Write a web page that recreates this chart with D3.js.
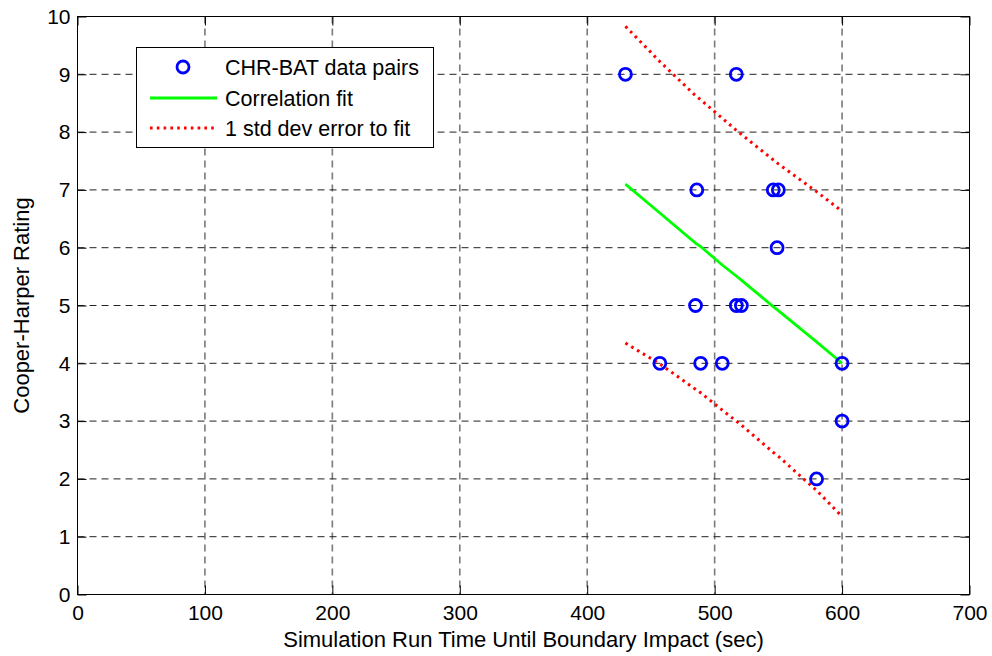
<!DOCTYPE html>
<html>
<head>
<meta charset="utf-8">
<script src="https://cdn.jsdelivr.net/npm/d3@7"></script>
<style>
  html, body { margin: 0; padding: 0; background: #fff; }
  svg { display: block; font-family: "Liberation Sans", Arial, sans-serif; }
</style>
</head>
<body>
<svg id="chart" width="992" height="656"></svg>
<script>
// CHR-BAT data pairs: run time (sec) vs Cooper-Harper rating
const runTime = [430, 517, 486, 546, 550, 549, 485, 517, 521, 457, 489, 506, 600, 600, 580];
const rating  = [9,   9,   7,   7,   7,   6,   5,   5,   5,   4,   4,   4,   4,   3,   2];

// Correlation fit and 1 std dev band, evaluated at the sorted run times
const fitTime   = [430, 457, 485, 489, 506, 517, 521, 546, 550, 580, 600];
const fitRating = [7.10, 6.60, 6.08, 6.02, 5.70, 5.51, 5.44, 4.98, 4.91, 4.37, 4.00];
const fitUpper  = [9.83, 9.22, 8.63, 8.56, 8.24, 8.03, 7.96, 7.52, 7.45, 6.97, 6.63];
const fitLower  = [4.35, 3.99, 3.55, 3.49, 3.19, 3.00, 2.93, 2.46, 2.39, 1.80, 1.35];

const xTicks = [0, 100, 200, 300, 400, 500, 600, 700];
const yTicks = [0, 1, 2, 3, 4, 5, 6, 7, 8, 9, 10];

const legendLabels = ["CHR-BAT data pairs", "Correlation fit", "1 std dev error to fit"];

const svg = d3.select("#chart");
const plotL = 77.5, plotR = 969.5, plotT = 16.5, plotB = 594.5;

const x = d3.scaleLinear().domain([0, 700]).range([plotL, plotR]);
const y = d3.scaleLinear().domain([0, 10]).range([plotB, plotT]);

// grid
const grid = svg.append("g");
grid.selectAll("line.vg").data(xTicks.slice(1, -1)).enter().append("line")
  .attr("x1", d => x(d)).attr("x2", d => x(d))
  .attr("y1", plotT).attr("y2", plotB)
  .attr("stroke", "#7a7a7a").attr("stroke-width", 1.6)
  .attr("stroke-dasharray", "7,5");
grid.selectAll("line.hg").data(yTicks.slice(1, -1)).enter().append("line")
  .attr("x1", plotL).attr("x2", plotR)
  .attr("y1", d => y(d)).attr("y2", d => y(d))
  .attr("stroke", "#222").attr("stroke-width", 1)
  .attr("stroke-dasharray", "7,5");

// axes
const fontSize = "21px";
const axB = svg.append("g").attr("transform", `translate(0,${plotB})`)
  .call(d3.axisBottom(x).tickValues(xTicks).tickSize(-9).tickPadding(11).tickSizeOuter(0));
const axL = svg.append("g").attr("transform", `translate(${plotL},0)`)
  .call(d3.axisLeft(y).tickValues(yTicks).tickSize(-9).tickPadding(7).tickSizeOuter(0));
const axT = svg.append("g").attr("transform", `translate(0,${plotT})`)
  .call(d3.axisTop(x).tickValues(xTicks).tickSize(-9).tickFormat("").tickSizeOuter(0));
const axR = svg.append("g").attr("transform", `translate(${plotR},0)`)
  .call(d3.axisRight(y).tickValues(yTicks).tickSize(-9).tickFormat("").tickSizeOuter(0));
[axB, axL, axT, axR].forEach(a => {
  a.selectAll(".domain").remove();
  a.selectAll(".tick line").attr("stroke", "#000");
  a.selectAll("text").attr("font-size", fontSize).attr("fill", "#000")
    .attr("font-family", "Liberation Sans, Arial, sans-serif");
});

// plot frame
svg.append("rect").attr("x", plotL).attr("y", plotT)
  .attr("width", plotR - plotL).attr("height", plotB - plotT)
  .attr("fill", "none").attr("stroke", "#000").attr("stroke-width", 1);

// band and fit lines
const line = vals => d3.line().x((d, i) => x(fitTime[i])).y(d => y(d))(vals);
const redDash = "2.6,4.2";
[fitUpper, fitLower].forEach(vals => {
  svg.append("path").attr("d", line(vals))
    .attr("fill", "none").attr("stroke", "#ff0000").attr("stroke-width", 3)
    .attr("stroke-dasharray", redDash);
});
svg.append("path").attr("d", line(fitRating))
  .attr("fill", "none").attr("stroke", "#00ff00").attr("stroke-width", 2.8);

// data points
svg.append("g").selectAll("circle").data(runTime).enter().append("circle")
  .attr("cx", d => x(d)).attr("cy", (d, i) => y(rating[i]))
  .attr("r", 6).attr("fill", "none").attr("stroke", "#0000ff").attr("stroke-width", 2.8);

// legend
const lg = svg.append("g");
lg.append("rect").attr("x", 136.5).attr("y", 47.5).attr("width", 297).attr("height", 100)
  .attr("fill", "#fff").attr("stroke", "#000").attr("stroke-width", 1);
const rowY = [67, 98, 128];
lg.append("circle").attr("cx", 183).attr("cy", rowY[0]).attr("r", 6)
  .attr("fill", "none").attr("stroke", "#0000ff").attr("stroke-width", 2.8);
lg.append("line").attr("x1", 150).attr("x2", 217).attr("y1", rowY[1]).attr("y2", rowY[1])
  .attr("stroke", "#00ff00").attr("stroke-width", 2.8);
lg.append("line").attr("x1", 150).attr("x2", 217).attr("y1", rowY[2]).attr("y2", rowY[2])
  .attr("stroke", "#ff0000").attr("stroke-width", 3).attr("stroke-dasharray", redDash);
lg.selectAll("text").data(legendLabels).enter().append("text")
  .attr("x", 225).attr("y", (d, i) => rowY[i]).attr("dy", "0.36em")
  .attr("font-size", "21.5px").attr("fill", "#000").text(d => d);

// axis titles
svg.append("text").attr("x", (plotL + plotR) / 2).attr("y", 647)
  .attr("text-anchor", "middle").attr("font-size", "22px").attr("fill", "#000")
  .text("Simulation Run Time Until Boundary Impact (sec)");
svg.append("text").attr("transform", `translate(28.5,${(plotT + plotB) / 2}) rotate(-90)`)
  .attr("text-anchor", "middle").attr("font-size", "22px").attr("fill", "#000")
  .text("Cooper-Harper Rating");
</script>
</body>
</html>
